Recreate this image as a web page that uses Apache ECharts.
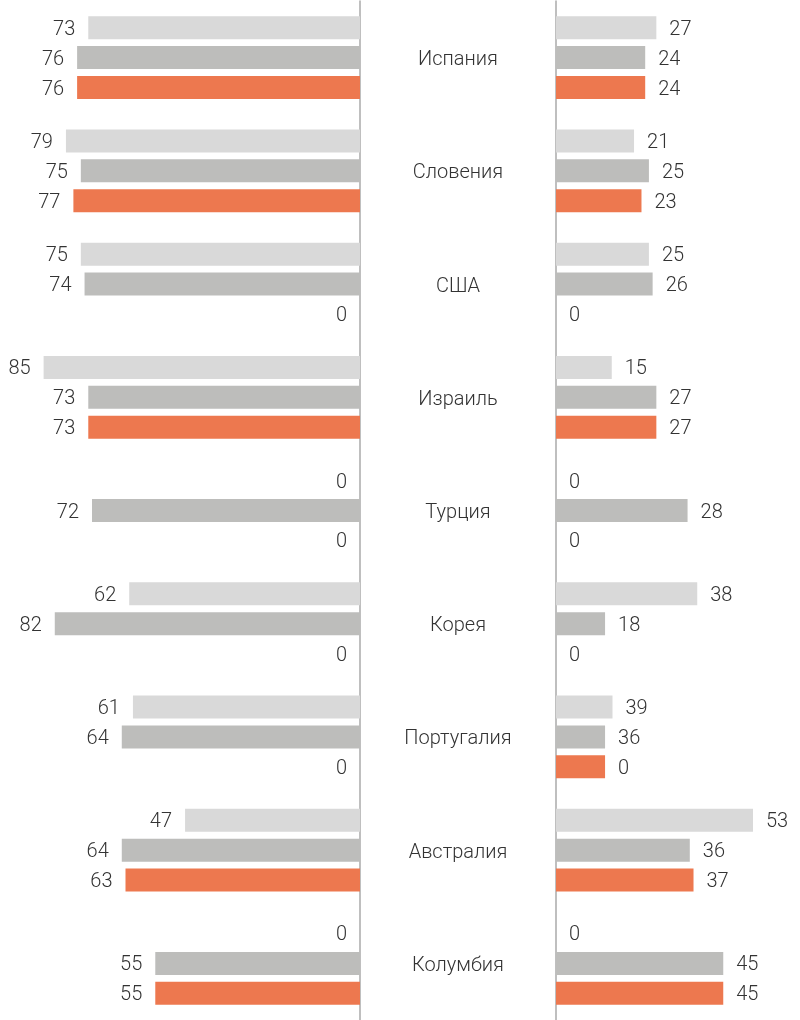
<!DOCTYPE html>
<html>
<head>
<meta charset="utf-8">
<script src="https://cdn.jsdelivr.net/npm/echarts@6/dist/echarts.min.js"></script>
<style>html,body{margin:0;padding:0;background:#fff}#c{width:800px;height:1020px}</style>
</head>
<body>
<div id="c"></div>
<script>
const categories = ['Испания','Словения','США','Израиль','Турция','Корея','Португалия','Австралия','Колумбия'];
// left side: bar lengths equal the printed values
const leftLight  = [73, 79, 75, 85, 0, 62, 61, 47, 0];
const leftDark   = [76, 75, 74, 73, 72, 82, 64, 64, 55];
const leftOrange = [76, 77, 0, 73, 0, 0, 0, 63, 55];
// right side: bar lengths as drawn in the picture
const rightLight  = [27, 21, 25, 15, 0, 38, 15.2, 53, 0];
const rightDark   = [24, 25, 26, 27, 35.4, 13.2, 13.2, 36, 45];
const rightOrange = [24, 23, 0, 27, 0, 0, 13.2, 37, 45];
// right side: printed labels
const rightLightLabels  = [27, 21, 25, 15, 0, 38, 39, 53, 0];
const rightDarkLabels   = [24, 25, 26, 27, 28, 18, 36, 36, 45];
const rightOrangeLabels = [24, 23, 0, 27, 0, 0, 0, 37, 45];

const C_LIGHT = '#d9d9d9', C_DARK = '#bdbdbb', C_ORANGE = '#ed784f';
const FONT = 'Roboto, "Liberation Sans", sans-serif';
const labelStyle = { color: '#333', fontSize: 20, fontFamily: FONT, fontWeight: 300, distance: 13, offset: [0, 2] };

function mk(name, data, color, idx, pos, labels) {
  return {
    type: 'bar', name, data, xAxisIndex: idx, yAxisIndex: idx,
    barWidth: 23, barGap: '30%',
    itemStyle: { color },
    label: Object.assign({ show: true, position: pos,
      formatter: labels ? (p => String(labels[p.dataIndex])) : '{c}' }, labelStyle),
    animation: false, silent: true
  };
}

const chart = echarts.init(document.getElementById('c'), null, { renderer: 'canvas' });
chart.setOption({
  animation: false,
  grid: [
    { left: 25, width: 335, top: 1, height: 1020 },
    { left: 556, width: 223, top: 1, height: 1020 }
  ],
  xAxis: [
    { gridIndex: 0, type: 'value', min: 0, max: 90, inverse: true, show: false },
    { gridIndex: 1, type: 'value', min: 0, max: 60, show: false }
  ],
  yAxis: [
    { gridIndex: 0, type: 'category', data: categories, inverse: true, position: 'right',
      axisLine: { show: true, lineStyle: { color: '#aaa', width: 1.5 } },
      axisTick: { show: false }, axisLabel: { show: false } },
    { gridIndex: 1, type: 'category', data: categories, inverse: true, position: 'left',
      axisLine: { show: true, lineStyle: { color: '#aaa', width: 1.5 } },
      axisTick: { show: false },
      axisLabel: { show: true, margin: 98, align: 'center',
        formatter: v => '{a|' + v + '}',
        rich: { a: { color: '#333', fontSize: 20, fontFamily: FONT, fontWeight: 300, padding: [5, 0, 0, 0] } } } }
  ],
  series: [
    mk('L1', leftLight, C_LIGHT, 0, 'left'),
    mk('L2', leftDark, C_DARK, 0, 'left'),
    mk('L3', leftOrange, C_ORANGE, 0, 'left'),
    mk('R1', rightLight, C_LIGHT, 1, 'right', rightLightLabels),
    mk('R2', rightDark, C_DARK, 1, 'right', rightDarkLabels),
    mk('R3', rightOrange, C_ORANGE, 1, 'right', rightOrangeLabels)
  ]
});
</script>
</body>
</html>
